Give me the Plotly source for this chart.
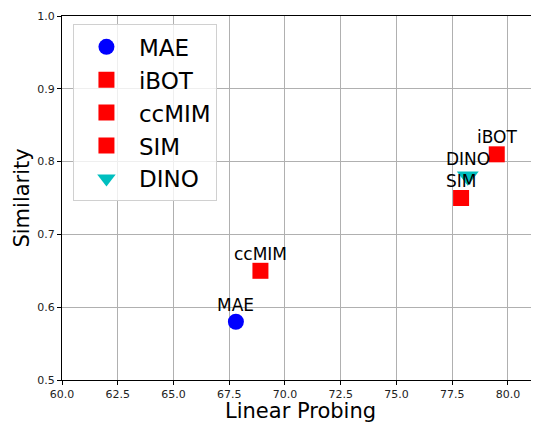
import plotly.graph_objects as go

methods = ["MAE", "iBOT", "ccMIM", "SIM", "DINO"]
linear_probing = [67.8, 79.5, 68.9, 77.9, 78.2]
similarity = [0.58, 0.81, 0.65, 0.75, 0.78]
colors = ["#0000ff", "#ff0000", "#ff0000", "#ff0000", "#00bfbf"]
symbols = ["circle", "square", "square", "square", "triangle-down"]
sizes = [16, 16, 16, 16, 19]

x_ticks = [60.0, 62.5, 65.0, 67.5, 70.0, 72.5, 75.0, 77.5, 80.0]
y_ticks = [0.5, 0.6, 0.7, 0.8, 0.9, 1.0]

fig = go.Figure()
for m, xv, yv, c, s, sz in zip(methods, linear_probing, similarity, colors, symbols, sizes):
    fig.add_trace(go.Scatter(
        x=[xv], y=[yv], mode="markers", name=m,
        marker=dict(color=c, symbol=s, size=sz, line=dict(width=0)),
    ))
    fig.add_annotation(x=xv, y=yv, text=m, showarrow=False, yanchor="bottom",
                       yshift=5, font=dict(size=17, color="#000000"))

axis_common = dict(
    showgrid=True, gridcolor="#b0b0b0", gridwidth=1,
    showline=True, linecolor="#000000", linewidth=1, mirror=True,
    ticks="outside", ticklen=4, tickcolor="#000000",
    tickfont=dict(size=11, color="#222222"), zeroline=False,
    automargin=False,
)

# the page body adds an 8px offset, so the figure is 8px smaller and margins shifted
fig.update_layout(
    width=531, height=415,
    margin=dict(l=54, r=1, t=8, b=43),
    paper_bgcolor="white", plot_bgcolor="white",
    font=dict(family="DejaVu Sans", color="#000000"),
    xaxis=dict(range=[60, 81.35], tickvals=x_ticks,
               ticktext=[f"{v:.1f}" for v in x_ticks], **axis_common),
    yaxis=dict(range=[0.5, 1.0], tickvals=y_ticks,
               ticktext=[f"{v:.1f}" for v in y_ticks], **axis_common),
    legend=dict(x=0.023, y=0.977, xanchor="left", yanchor="top",
                bgcolor="rgba(255,255,255,0.8)", bordercolor="#d0d0d0",
                borderwidth=1, font=dict(size=23), itemwidth=55),
)

fig.add_annotation(xref="paper", yref="paper", x=0.5, y=-0.046, xanchor="center",
                   yanchor="top", text="Linear Probing", showarrow=False,
                   font=dict(size=21, color="#000000"))
fig.add_annotation(xref="paper", yref="paper", x=-0.085, y=0.5, xanchor="center",
                   yanchor="middle", text="Similarity", textangle=-90, showarrow=False,
                   font=dict(size=21, color="#000000"))

fig.write_html("out.html")
